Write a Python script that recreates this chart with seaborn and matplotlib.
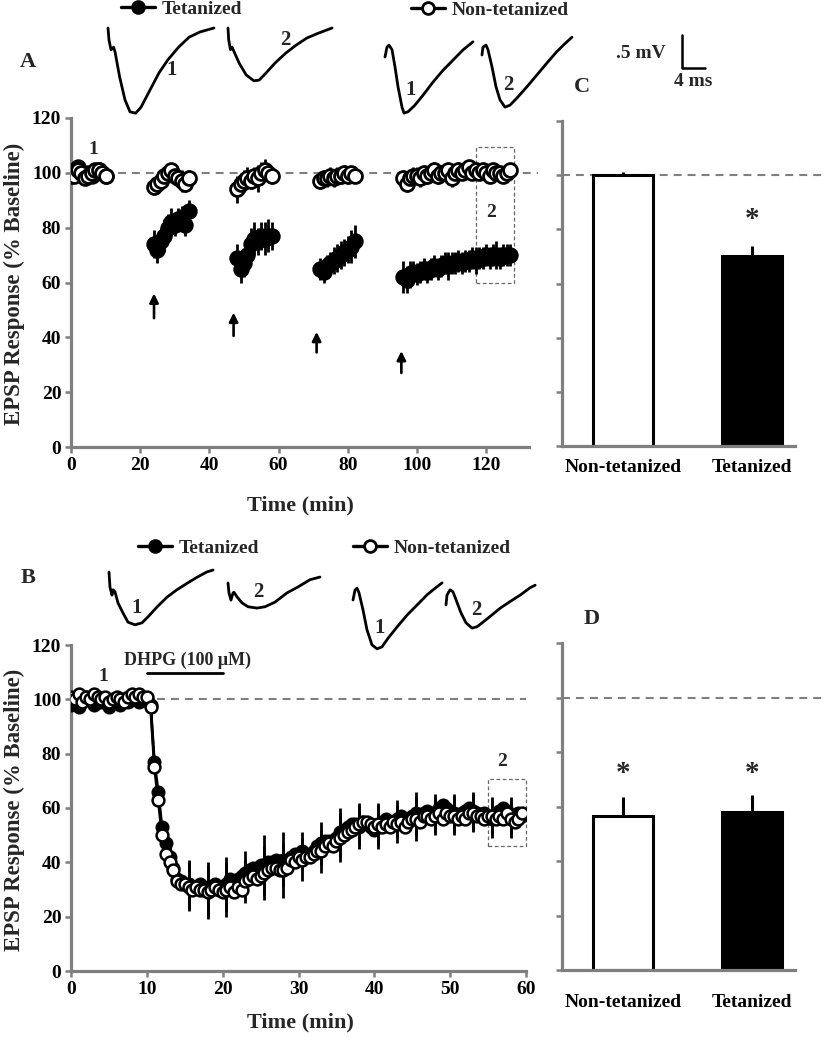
import numpy as np
import pandas as pd
import matplotlib
matplotlib.use("Agg")
import matplotlib.pyplot as plt
import seaborn as sns
from matplotlib.lines import Line2D
from matplotlib.patches import Rectangle

sns.set_theme(style="ticks")
plt.rcParams["font.family"] = ["Liberation Serif", "DejaVu Serif"]
plt.rcParams["font.weight"] = "bold"
plt.rcParams["axes.labelweight"] = "bold"

# ---------------- data ----------------
# Panel A: EPSP (% baseline), 1-min samples, five recording blocks
a_block_start = [0, 24, 48, 72, 96]
a_tet = [
    [99, 101, 102, 100, 99, 100, 99, 100, 101, 100, 99],
    [74, 72, 75, 77, 80, 82, 81, 83, 84, 81, 86],
    [69, 65, 67, 70, 74, 76, 75, 77, 76, 77, 77],
    [65, 64, 66, 67, 68, 69, 70, 71, 72, 73, 75],
    [62, 61, 63, 64, 63, 64, 65, 64, 65, 66, 65, 66, 67, 66, 67, 67,
     68, 67, 68, 68, 69, 68, 69, 69, 70, 69, 70, 70, 69, 70, 70, 70],
]
a_tet_sem = [
    [2, 2, 2, 2, 2, 2, 2, 2, 2, 2, 2],
    [5, 5, 5, 6, 5, 5, 4, 4, 4, 4, 4],
    [5, 5, 5, 6, 6, 6, 5, 5, 6, 6, 5],
    [4, 4, 4, 4, 5, 5, 5, 5, 5, 6, 6],
    [6, 5, 5, 4, 4, 4, 4, 4, 4, 4, 4, 4, 4, 5, 4, 4,
     4, 4, 4, 4, 4, 5, 4, 4, 4, 4, 4, 5, 4, 4, 4, 4],
]
a_non = [
    [100, 99, 101, 100, 98, 99, 100, 101, 101, 100, 99],
    [95, 96, 97, 99, 100, 101, 99, 98, 97, 96, 98],
    [94, 96, 97, 98, 97, 99, 98, 100, 101, 100, 99],
    [97, 98, 98, 99, 98, 99, 99, 100, 99, 100, 99],
    [98, 96, 98, 99, 99, 98, 100, 99, 100, 101, 99, 100, 100, 101, 98, 100,
     101, 100, 101, 102, 100, 101, 100, 101, 100, 99, 101, 100, 100, 99, 100, 101],
]
a_non_sem = [
    [2, 2, 2, 2, 2, 2, 2, 2, 2, 2, 2],
    [3, 3, 3, 3, 2, 2, 3, 3, 4, 3, 3],
    [5, 4, 4, 4, 3, 3, 5, 4, 4, 3, 3],
    [3, 3, 3, 3, 3, 3, 3, 3, 3, 2, 2],
    [3, 3, 3, 3, 3, 3, 3, 3, 3, 3, 3, 3, 3, 3, 3, 3,
     3, 2, 2, 2, 2, 2, 2, 2, 2, 2, 2, 2, 2, 2, 2, 2],
]
tetanus_times = [24, 47, 71, 95.5]

# Panel B: 30-s samples, 0 - 59.5 min
b_step = 0.5
b_tet = [
    98, 100, 97, 99, 101, 100, 98, 101, 99, 100, 97, 99, 100, 98, 100, 99, 101, 100, 99, 100,
    100, 98, 77, 66, 53, 47, 42, 38, 34, 33, 32, 32, 31, 31, 32, 31, 30, 31, 32, 31,
    30, 32, 34, 33, 34, 35, 36, 37, 38, 38, 39, 39, 40, 40, 41, 40, 41, 40, 42, 43,
    43, 44, 42, 43, 44, 46, 47, 48, 48, 48, 49, 51, 52, 53, 54, 54, 53, 55, 54, 53,
    52, 53, 55, 56, 55, 54, 56, 57, 55, 56, 57, 58, 57, 58, 59, 58, 58, 60, 61, 60,
    59, 58, 57, 58, 59, 60, 59, 58, 57, 58, 57, 56, 58, 59, 60, 59, 57, 56, 58, 57,
]
b_non = [
    101, 100, 102, 99, 101, 100, 102, 101, 100, 101, 99, 100, 101, 100, 99, 101, 102, 101, 102, 101,
    101, 97, 75, 63, 50, 43, 40, 37, 33, 32, 32, 31, 30, 31, 30, 30, 29, 30, 31, 30,
    29, 30, 31, 29, 31, 30, 33, 34, 35, 34, 35, 36, 37, 38, 38, 37, 37, 38, 41, 40,
    42, 41, 42, 42, 43, 44, 44, 46, 47, 46, 48, 49, 50, 51, 52, 53, 54, 55, 55, 54,
    53, 54, 53, 54, 53, 55, 54, 55, 53, 55, 56, 56, 55, 57, 57, 56, 57, 58, 56, 58,
    57, 57, 56, 57, 56, 58, 58, 57, 57, 56, 57, 57, 56, 57, 56, 58, 56, 55, 56, 58,
]
# SEM shown every 5th sample starting at the 2nd sample
b_tet_sem = [2, 2, 2, 2, 3, 5, 9, 10, 10, 8, 11, 10, 7, 8, 9, 8, 8, 7, 8, 7, 7, 7, 7, 7]
b_non_sem = [2, 2, 2, 2, 3, 5, 9, 10, 10, 8, 10, 10, 8, 8, 9, 8, 8, 7, 8, 7, 7, 7, 7, 7]
dhpg_on, dhpg_off = 10, 20

# Bars
bar_cats = ["Non-tetanized", "Tetanized"]
c_vals = [100, 70]
c_sem = [1, 4]
d_vals = [56.5, 58]
d_sem = [7, 6.2]

# EPSP traces (ms, mV relative to start)
tr_a_tet1_t = [0, 0.17, 0.52, 0.97, 1.22, 2.02, 2.96, 3.83, 4.82, 5.74, 7.3, 8.87, 10.43, 12.28, 14.09, 16.0, 18.43]
tr_a_tet1_v = [0, -0.18, -0.33, -0.29, -0.36, -0.74, -1.09, -1.27, -1.29, -1.2, -0.94, -0.68, -0.48, -0.29, -0.14, -0.06, 0]
tr_a_tet2_t = [0, 0.12, 0.43, 0.71, 1.06, 1.93, 3.15, 4.49, 5.41, 6.63, 8.19, 10.05, 11.84, 13.75, 15.67, 18.1]
tr_a_tet2_v = [0, -0.18, -0.33, -0.29, -0.36, -0.53, -0.71, -0.8, -0.79, -0.68, -0.53, -0.38, -0.26, -0.15, -0.08, 0]
tr_a_non1_t = [0, 0.35, 0.7, 1.22, 1.74, 2.26, 2.96, 3.3, 4.0, 5.2, 6.6, 8.35, 10.1, 11.8, 13.6, 15.3]
tr_a_non1_v = [0, 0.15, 0.18, 0.11, -0.15, -0.45, -0.76, -0.85, -0.83, -0.73, -0.58, -0.38, -0.2, -0.05, 0.11, 0.23]
tr_a_non2_t = [0, 0.17, 0.7, 1.04, 1.74, 2.43, 3.13, 4.0, 4.87, 6.09, 7.83, 9.57, 11.3, 13.0, 14.4, 15.65]
tr_a_non2_v = [0, 0.12, 0.15, 0.08, -0.18, -0.48, -0.68, -0.79, -0.76, -0.65, -0.48, -0.3, -0.12, 0.05, 0.17, 0.27]
tr_b_tet1_t = [0, 0.17, 0.52, 0.7, 1.04, 1.57, 2.43, 3.3, 4.52, 5.74, 6.78, 8.35, 10.1, 11.8, 13.6, 15.3, 17.0, 18.1]
tr_b_tet1_v = [0, -0.23, -0.35, -0.27, -0.3, -0.47, -0.62, -0.76, -0.8, -0.77, -0.68, -0.53, -0.38, -0.27, -0.17, -0.08, 0, 0.03]
tr_b_tet2_t = [0, 0.17, 0.52, 0.87, 1.04, 1.57, 2.43, 3.48, 5.04, 6.43, 8.17, 10.26, 12.17, 14.26, 16.0]
tr_b_tet2_v = [0, -0.15, -0.26, -0.15, -0.14, -0.21, -0.3, -0.36, -0.38, -0.36, -0.29, -0.15, -0.06, 0.05, 0.09]
tr_b_non1_t = [0, 0.35, 0.7, 1.04, 1.74, 2.43, 3.3, 4.17, 5.04, 6.09, 7.65, 9.39, 11.1, 12.9, 14.3, 15.5]
tr_b_non1_v = [0, 0.15, 0.18, 0.11, -0.15, -0.45, -0.68, -0.74, -0.71, -0.58, -0.41, -0.23, -0.08, 0.08, 0.18, 0.26]
tr_b_non2_t = [0, 0.17, 0.7, 1.22, 1.74, 2.61, 3.48, 4.52, 5.39, 6.43, 8.0, 9.39, 11.1, 12.9, 14.6, 15.5]
tr_b_non2_v = [0, 0.15, 0.23, 0.2, 0.08, -0.12, -0.27, -0.35, -0.33, -0.26, -0.15, -0.05, 0.05, 0.15, 0.26, 0.3]
scale_mv, scale_ms = 0.5, 4

# ---------------- layout helpers ----------------
W, H = 828, 1050
GRAY = "#7f7f7f"
FONT = "Liberation Serif"


def rect(l, t, r, b):
    return [l / W, 1 - b / H, (r - l) / W, (b - t) / H]


fig = plt.figure(figsize=(W / 100, H / 100), dpi=100)
axA = fig.add_axes(rect(71, 118, 529, 447))
axC = fig.add_axes(rect(562, 121, 795, 446))
axB = fig.add_axes(rect(71, 645, 526, 971))
axD = fig.add_axes(rect(562, 643, 795, 970))


def style(ax):
    sns.despine(ax=ax)
    for s in ["left", "bottom"]:
        ax.spines[s].set_color(GRAY)
        ax.spines[s].set_linewidth(2.3)
    ax.tick_params(axis="both", direction="out", length=4, width=1.8, color=GRAY,
                   labelsize=14, pad=3, labelcolor="black")
    ax.set_ylim(0, 120)
    ax.set_yticks(range(0, 121, 20))
    ax.set_xlabel("")
    ax.set_ylabel("")
    ax.set_facecolor("none")


# ---------------- panel A ----------------
def block_frame(vals, sems, cond):
    rows = []
    for g, (st, v, s) in enumerate(zip(a_block_start, vals, sems)):
        for i, (vv, ss) in enumerate(zip(v, s)):
            rows.append({"t": st + i, "v": vv, "sem": ss, "block": g, "cond": cond})
    return pd.DataFrame(rows)


dfa_t = block_frame(a_tet, a_tet_sem, "Tetanized")
dfa_n = block_frame(a_non, a_non_sem, "Non-tetanized")

axA.plot([13.5, 135], [100, 100], ls=(0, (3.8, 2.9)), color=GRAY, lw=1.5, clip_on=False, zorder=1)
axA.errorbar(dfa_t["t"], dfa_t["v"], yerr=dfa_t["sem"], fmt="none", ecolor="black", elinewidth=2, capsize=0, zorder=2)
sns.lineplot(data=dfa_t, x="t", y="v", units="block", estimator=None, color="black", lw=1.8,
             marker="o", markersize=10, markerfacecolor="black", markeredgecolor="black",
             markeredgewidth=1.8, ax=axA, legend=False, zorder=3)
axA.errorbar(dfa_n["t"], dfa_n["v"], yerr=dfa_n["sem"], fmt="none", ecolor="black", elinewidth=2, capsize=0, zorder=4)
sns.lineplot(data=dfa_n, x="t", y="v", units="block", estimator=None, color="black", lw=1.8,
             marker="o", markersize=10, markerfacecolor="white", markeredgecolor="black",
             markeredgewidth=2, ax=axA, legend=False, zorder=5)
style(axA)
axA.set_xlim(0, 132.4)
axA.set_xticks(range(0, 121, 20))

arrow_tip = [56, 49, 42, 35]
arrow_tail = [47, 40.5, 34.5, 27]
for tt, tip, tail in zip(tetanus_times, arrow_tip, arrow_tail):
    axA.annotate("", xy=(tt, tip), xytext=(tt, tail),
                 arrowprops=dict(arrowstyle="-|>", color="black", lw=1.9, mutation_scale=13, shrinkA=0, shrinkB=0))
axA.text(6.5, 108.5, "1", ha="center", va="center", fontsize=14)
axA.add_patch(Rectangle((117, 59.8), 11, 49.6, fill=False, ls=(0, (3, 2)), lw=0.9, ec="#666666", clip_on=False))
axA.text(121.5, 85.4, "2", ha="center", va="center", fontsize=14)

# ---------------- panel B ----------------
dfb = pd.DataFrame({
    "t": np.arange(len(b_tet)) * b_step,
    "tet": b_tet,
    "non": b_non,
})
sub = dfb.iloc[1::5]
axB.plot([11.3, 60], [100, 100], ls=(0, (3.8, 2.9)), color=GRAY, lw=1.5, zorder=1)
axB.errorbar(sub["t"], sub["tet"], yerr=b_tet_sem[:len(sub)], fmt="none", ecolor="black", elinewidth=2, capsize=0, zorder=2)
sns.lineplot(data=dfb, x="t", y="tet", color="black", lw=2, marker="o", markersize=8.5,
             markerfacecolor="black", markeredgecolor="black", markeredgewidth=1.6, ax=axB, zorder=3)
axB.errorbar(sub["t"], sub["non"], yerr=b_non_sem[:len(sub)], fmt="none", ecolor="black", elinewidth=2, capsize=0, zorder=4)
sns.lineplot(data=dfb, x="t", y="non", color="black", lw=2, marker="o", markersize=8.5,
             markerfacecolor="white", markeredgecolor="black", markeredgewidth=1.8, ax=axB, zorder=5)
style(axB)
axB.set_xlim(0, 60)
axB.set_xticks(range(0, 61, 10))
axB.plot([dhpg_on, dhpg_off], [109.7, 109.7], color="black", lw=2, clip_on=False)
axB.text(15.3, 114.5, "DHPG (100 μM)", ha="center", va="center", fontsize=13)
axB.text(4.2, 108.3, "1", ha="center", va="center", fontsize=14)
axB.add_patch(Rectangle((55, 46), 5, 24.7, fill=False, ls=(0, (3, 2)), lw=0.9, ec="#666666", clip_on=False))
axB.text(56.9, 77, "2", ha="center", va="center", fontsize=14)

# ---------------- bar panels ----------------
pal = {"Non-tetanized": "white", "Tetanized": "black"}
for ax, vals, sems, pad in [(axC, c_vals, c_sem, 9), (axD, d_vals, d_sem, 17)]:
    sns.barplot(x=bar_cats, y=vals, hue=bar_cats, palette=pal, edgecolor="black", linewidth=2.2,
                width=0.47, ax=ax, legend=False, errorbar=None, zorder=2)
    ax.errorbar([0, 1], vals, yerr=[[0, 0], sems], fmt="none", ecolor="black", elinewidth=2.2, capsize=0, zorder=3)
    style(ax)
    ax.set_xlim(-0.473, 1.333)
    ax.set_yticklabels([])
    ax.tick_params(axis="x", length=0, pad=pad, labelsize=14)
    ax.plot([-0.473, 1.59], [100, 100], ls=(0, (3.8, 2.9)), color=GRAY, lw=1.5, clip_on=False, zorder=1)

axC.text(1, 83.5, "*", ha="center", va="center", fontsize=21)
axD.text(0, 72.2, "*", ha="center", va="center", fontsize=21)
axD.text(1, 72.2, "*", ha="center", va="center", fontsize=21)

for ax in (axA, axB, axC, axD):
    for lbl in ax.get_xticklabels() + ax.get_yticklabels():
        lbl.set_fontweight("bold")
        lbl.set_fontfamily(FONT)

# ---------------- legends ----------------
def add_legend(x_px, y_px, label, face):
    h = Line2D([], [], color="black", lw=2.4, marker="o", markersize=8.5, markerfacecolor=face,
               markeredgecolor="black", markeredgewidth=2)
    fig.legend(handles=[h], labels=[label], loc="center left", bbox_to_anchor=(x_px / W, 1 - y_px / H),
               frameon=False, handlelength=1.75, handletextpad=0.35, borderpad=0, borderaxespad=0,
               prop={"family": FONT, "weight": "bold", "size": 14})


add_legend(121, 9, "Tetanized", "black")
add_legend(411, 10, "Non-tetanized", "white")
add_legend(138, 548, "Tetanized", "black")
add_legend(353, 548, "Non-tetanized", "white")

# ---------------- traces ----------------
PX_MS, PX_MV = 5.75, 66.0
tr = fig.add_axes([0, 0, 1, 1])
tr.set_xlim(0, W / PX_MS)
tr.set_ylim(-H / PX_MV, 0)
tr.axis("off")
tr.patch.set_visible(False)
traces = [
    (tr_a_tet1_t, tr_a_tet1_v, 108, 28), (tr_a_tet2_t, tr_a_tet2_v, 228, 28),
    (tr_a_non1_t, tr_a_non1_v, 385, 57), (tr_a_non2_t, tr_a_non2_v, 482, 55),
    (tr_b_tet1_t, tr_b_tet1_v, 109, 572), (tr_b_tet2_t, tr_b_tet2_v, 228, 583),
    (tr_b_non1_t, tr_b_non1_v, 353, 600), (tr_b_non2_t, tr_b_non2_v, 446, 605),
]
for tt, vv, ox, oy in traces:
    tr.plot(np.array(tt) + ox / PX_MS, np.array(vv) - oy / PX_MV, color="black", lw=2)
sx, sy = 682 / PX_MS, -68 / PX_MV
tr.plot([sx, sx, sx + scale_ms], [sy + scale_mv, sy, sy], color="black", lw=1.8)

# ---------------- overlay texts ----------------
ov = fig.add_axes([0, 0, 1, 1])
ov.set_xlim(0, W)
ov.set_ylim(H, 0)
ov.axis("off")
ov.patch.set_visible(False)
for x, y, s in [(28, 62, "A"), (28, 578, "B"), (582, 87, "C"), (592, 619, "D")]:
    ov.text(x, y, s, ha="center", va="center", fontsize=16, fontweight="bold")
for x, y, s in [(172, 70, "1"), (285, 40, "2"), (411, 90, "1"), (508, 85, "2"),
                (137, 608, "1"), (258, 592, "2"), (380, 628, "1"), (476, 610, "2")]:
    ov.text(x, y, s, ha="center", va="center", fontsize=15, fontweight="bold")
ov.text(666, 53, ".5 mV", ha="right", va="center", fontsize=14, fontweight="bold")
ov.text(693, 81, "4 ms", ha="center", va="center", fontsize=14, fontweight="bold")
ov.text(300, 505, "Time (min)", ha="center", va="center", fontsize=16, fontweight="bold")
ov.text(300, 1022, "Time (min)", ha="center", va="center", fontsize=16, fontweight="bold")
ov.text(14, 284, "EPSP Response (% Baseline)", ha="center", va="center", rotation=90, fontsize=16.5, fontweight="bold")
ov.text(14, 810, "EPSP Response (% Baseline)", ha="center", va="center", rotation=90, fontsize=16.5, fontweight="bold")

fig.savefig("out.png", dpi=100)
